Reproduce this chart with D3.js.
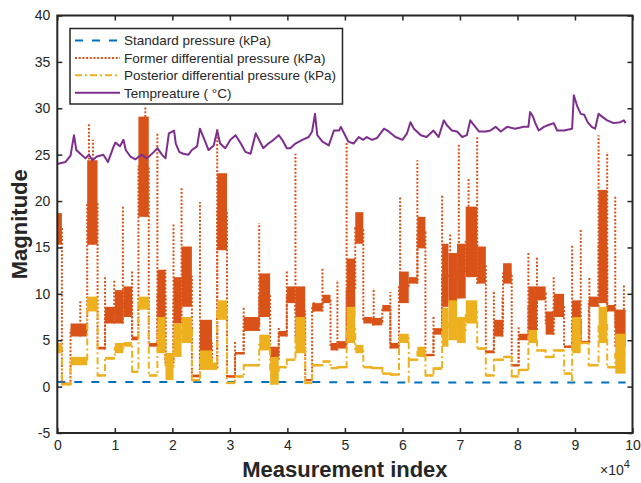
<!DOCTYPE html>
<html>
<head>
<meta charset="utf-8">
<script src="https://cdn.jsdelivr.net/npm/d3@7"></script>
<style>
  html, body { margin: 0; padding: 0; background: #fff; }
  svg { display: block; }
  text { font-family: "Liberation Sans", Arial, Helvetica, sans-serif; fill: #262626; }
</style>
</head>
<body>
<svg id="chart" width="641" height="483"></svg>
<script>
// Former differential pressure: [startIndex, endIndex, low, high] of each operating stretch
const formerSegments = [
  [0, 800, 15.3, 18.7], [800, 2300, 0.2, 0.4], [2300, 5200, 5.4, 6.8], [5200, 7000, 15.3, 24.4],
  [7000, 8300, 4.0, 4.3], [8300, 10000, 6.8, 8.6], [10000, 11500, 6.8, 10.4], [11500, 13000, 7.5, 10.8],
  [13000, 14100, 5.0, 5.4], [14100, 15900, 18.3, 29.1], [15900, 17400, 4.3, 4.7], [17400, 18800, 6.8, 12.6],
  [18800, 20200, 2.5, 3.6], [20200, 21600, 6.8, 11.8], [21600, 23400, 8.6, 15.1], [23400, 24800, 1.0, 1.3],
  [24800, 26900, 2.1, 7.2], [26900, 27800, 2.0, 2.2], [27800, 29500, 14.7, 23.0], [29500, 30900, 1.0, 1.2],
  [30900, 32400, 3.5, 3.7], [32400, 35100, 6.0, 7.5], [35100, 37000, 7.5, 12.2], [37000, 38500, 2.9, 4.3],
  [38500, 39900, 5.4, 6.0], [39900, 41400, 9.0, 10.8], [41400, 43100, 5.4, 10.8], [43100, 44300, 0.6, 0.8],
  [44300, 46100, 8.1, 9.0], [46100, 47500, 9.0, 9.9], [47500, 48700, 3.9, 4.7], [48700, 50300, 4.1, 4.9],
  [50300, 51800, 7.5, 13.8], [51800, 53200, 15.4, 18.8], [53200, 54700, 6.8, 7.5], [54700, 56500, 6.6, 7.4],
  [56500, 57900, 8.1, 8.8], [57900, 59400, 4.1, 4.7], [59400, 61100, 9.0, 12.4], [61100, 62600, 11.1, 11.8],
  [62600, 64000, 14.9, 18.3], [64000, 65400, 3.3, 3.5], [65400, 66900, 5.6, 6.3], [66900, 68000, 8.6, 15.4],
  [68000, 69500, 9.0, 14.4], [69500, 71000, 9.5, 15.4], [71000, 73000, 11.8, 19.4], [73000, 74500, 11.1, 15.1],
  [74500, 75900, 3.6, 3.9], [75900, 77500, 5.4, 7.2], [77500, 79000, 11.1, 13.3], [79000, 80200, 2.2, 2.4],
  [80200, 81900, 5.0, 5.7], [81900, 83400, 6.1, 10.8], [83400, 84900, 9.3, 10.8], [84900, 86300, 5.6, 8.1],
  [86300, 88100, 7.5, 10.0], [88100, 89500, 4.2, 4.4], [89500, 91000, 4.7, 9.3], [91000, 92400, 4.7, 4.9],
  [92400, 94100, 8.6, 9.7], [94100, 95600, 9.0, 21.2], [95600, 97000, 8.1, 8.8], [97000, 98800, 4.3, 8.3]
];

// Short peaks of the former differential pressure: [index, peak value]
const formerSpikes = [
  [4000, 9.3], [5500, 28.4], [6200, 26.6], [8300, 12.0], [9900, 11.5], [11400, 19.4], [13000, 12.4],
  [15300, 30.2], [17400, 27.3], [18800, 12.6], [20200, 17.6], [21600, 21.5], [24800, 19.9], [27800, 27.8],
  [30900, 5.0], [32400, 8.6], [35100, 17.6], [38500, 6.4], [39900, 12.4], [41400, 25.1], [44600, 9.1],
  [46100, 12.9], [48700, 11.5], [50300, 26.4], [55000, 10.6], [57900, 10.2], [59600, 20.5], [62600, 24.4],
  [65400, 7.7], [66900, 20.6], [68300, 16.5], [69800, 26.2], [71500, 22.4], [73000, 27.0], [75900, 10.4],
  [77400, 9.7], [80200, 6.5], [81900, 14.4], [83400, 14.0], [86300, 11.8], [89500, 15.3], [91000, 16.9],
  [92500, 11.7], [94100, 27.1], [95600, 25.3], [97000, 20.5], [98500, 11.1]
];

// Posterior differential pressure: [startIndex, endIndex, low, high]
const posteriorSegments = [
  [0, 800, 3.6, 4.7], [800, 2300, 0.2, 0.3], [2300, 5200, 2.3, 3.2], [5200, 7000, 8.1, 9.7],
  [7000, 8300, 1.1, 1.3], [8300, 10000, 2.9, 3.2], [10000, 11500, 3.6, 4.7], [11500, 13000, 4.3, 4.8],
  [13000, 14100, 1.5, 1.7], [14100, 15900, 8.3, 9.7], [15900, 17400, 1.1, 1.3], [17400, 18800, 3.6, 7.5],
  [18800, 20200, 0.7, 3.6], [20200, 21600, 3.2, 6.8], [21600, 23400, 4.7, 7.5], [23400, 24800, 0.6, 0.8],
  [24800, 26900, 1.8, 3.9], [26900, 27800, 1.8, 2.6], [27800, 29500, 7.2, 9.3], [29500, 30900, 0.3, 0.5],
  [30900, 32400, 1.0, 1.2], [32400, 35100, 2.2, 2.4], [35100, 37000, 3.9, 5.6], [37000, 38500, 0.2, 3.2],
  [38500, 39900, 2.0, 2.2], [39900, 41400, 2.8, 3.0], [41400, 43100, 3.6, 7.5], [43100, 44300, 0.3, 0.5],
  [44300, 46100, 2.2, 2.4], [46100, 47500, 2.6, 2.8], [47500, 48700, 1.9, 2.1], [48700, 50300, 2.0, 2.2],
  [50300, 51800, 4.7, 8.6], [51800, 53200, 3.6, 4.5], [53200, 54700, 2.0, 2.2], [54700, 56500, 1.9, 2.1],
  [56500, 57900, 1.3, 1.5], [57900, 59400, 1.2, 1.4], [59400, 61100, 4.7, 5.7], [61100, 62600, 2.8, 3.0],
  [62600, 64000, 3.2, 4.3], [64000, 65400, 1.1, 1.3], [65400, 66900, 1.8, 2.1], [66900, 68000, 4.3, 8.5],
  [68000, 69500, 5.0, 9.3], [69500, 71000, 4.7, 7.5], [71000, 73000, 6.8, 9.3], [73000, 74500, 4.0, 4.2],
  [74500, 75900, 1.1, 1.3], [75900, 77500, 2.8, 3.0], [77500, 79000, 3.1, 3.3], [79000, 80200, 1.0, 1.2],
  [80200, 81900, 1.7, 1.9], [81900, 83400, 4.7, 6.1], [83400, 84900, 3.8, 4.0], [84900, 86300, 3.1, 3.3],
  [86300, 88100, 3.8, 4.0], [88100, 89500, 1.3, 1.5], [89500, 91000, 3.6, 7.5], [91000, 92400, 4.6, 4.8],
  [92400, 94100, 2.2, 2.4], [94100, 95600, 4.7, 8.6], [95600, 97000, 2.0, 2.2], [97000, 98800, 1.4, 5.7]
];

// Brief drops of the posterior differential pressure: [index, value]
const posteriorDips = [[37000, 0.2], [61100, 0.3], [89500, 0.2]];

// Standard pressure
const standardIndex = [0, 20000, 40000, 60000, 80000, 98800];
const standardValues = [0.5, 0.5, 0.5, 0.45, 0.45, 0.45];

// Temperature
const tempIndex = [
  0, 1400, 2300, 2900, 3300, 4000, 4900, 5500, 6100, 6900, 8000, 8800, 9800, 10100, 10900, 11500,
  11900, 12700, 13600, 14600, 15600, 16800, 17400, 18200, 18800, 19400, 20300, 20600, 21200, 21900,
  22800, 23400, 24300, 24800, 25400, 26300, 27200, 27800, 28300, 29200, 30100, 31000, 31900, 32700,
  33600, 34500, 35400, 35800, 36700, 37600, 38500, 39100, 39900, 40500, 41400, 42600, 43700, 44300,
  44800, 45200, 46100, 47200, 48100, 49000, 49300, 49700, 50600, 51500, 52400, 53200, 53800, 54700,
  55600, 56800, 57600, 58800, 60000, 60800, 61400, 62000, 63200, 64200, 65400, 66300, 67200, 67700,
  68600, 69500, 70400, 71200, 71800, 72400, 73300, 74500, 75300, 76200, 77100, 78200, 79600, 81100,
  81900, 82200, 82700, 83100, 83700, 84600, 85400, 86300, 86900, 88100, 89500, 89800, 90400, 91000,
  91600, 92200, 92900, 93500, 94100, 94700, 95600, 96700, 97900, 98500, 98800
];
const tempValues = [
  24.0, 24.2, 24.9, 27.1, 25.5, 25.1, 24.6, 25.0, 24.4, 24.8, 25.0, 24.2, 25.9, 26.3, 25.9, 26.6,
  25.5, 24.8, 24.5, 25.0, 24.6, 25.3, 25.7, 25.0, 24.6, 27.3, 27.6, 26.2, 25.3, 25.1,
  25.0, 25.5, 25.9, 27.8, 26.9, 25.5, 26.0, 27.6, 26.2, 25.7, 26.6, 27.1, 26.2, 25.3,
  25.1, 27.3, 26.2, 25.7, 26.2, 26.6, 27.1, 26.6, 25.7, 25.7, 26.2, 26.6, 26.9, 27.5,
  29.4, 27.1, 26.4, 26.0, 27.6, 27.6, 28.0, 27.5, 26.4, 26.2, 26.9, 26.6, 26.9, 26.6,
  26.8, 27.8, 27.5, 26.9, 26.6, 27.3, 28.5, 27.8, 27.1, 26.9, 27.6, 26.9, 28.7, 28.2,
  27.6, 27.5, 26.9, 27.1, 28.7, 28.2, 27.5, 27.5, 27.6, 28.0, 27.5, 28.0, 27.8, 28.0,
  28.0, 29.6, 29.1, 28.4, 27.6, 28.0, 28.2, 28.4, 27.6, 27.6, 27.8, 31.4, 30.2, 29.4,
  29.3, 28.5, 28.0, 27.8, 29.4, 29.1, 28.7, 28.4, 28.5, 28.7, 28.4
];

const xTicks = [0, 10000, 20000, 30000, 40000, 50000, 60000, 70000, 80000, 90000, 100000];
const xTickLabels = ["0", "1", "2", "3", "4", "5", "6", "7", "8", "9", "10"];
const yTicks = [-5, 0, 5, 10, 15, 20, 25, 30, 35, 40];
const yTickLabels = ["-5", "0", "5", "10", "15", "20", "25", "30", "35", "40"];

const legendLabels = [
  "Standard pressure (kPa)",
  "Former differential pressure (kPa)",
  "Posterior differential pressure (kPa)",
  "Tempreature ( \u00B0C)"
];

const colors = { standard: "#0072BD", former: "#D95319", posterior: "#EDB120", temp: "#7E2F8E" };
const axisColor = "#262626";

const plot = { left: 57.3, right: 632.5, top: 15.5, bottom: 433 };
const svg = d3.select("#chart");

const x = d3.scaleLinear().domain([0, 100000]).range([plot.left, plot.right]);
const y = d3.scaleLinear().domain([-5, 40]).range([plot.bottom, plot.top]);

svg.append("defs").append("clipPath").attr("id", "plotClip")
  .append("rect")
  .attr("x", plot.left).attr("y", plot.top)
  .attr("width", plot.right - plot.left).attr("height", plot.bottom - plot.top);

const data = svg.append("g").attr("clip-path", "url(#plotClip)");

// step path through the middle of each stretch
function levelPoints(segs) {
  const pts = [];
  segs.forEach(s => {
    const m = (s[2] + s[3]) / 2;
    pts.push([s[0], m], [s[1], m]);
  });
  return pts;
}
function baseAt(segs, idx) {
  const near = segs.filter(s => idx >= s[0] - 150 && idx <= s[1] + 150);
  return near.length ? d3.min(near, s => s[2]) : 0;
}
const line = d3.line().x(d => x(d[0])).y(d => y(d[1]));

// standard pressure (dashed)
data.append("path")
  .datum(standardIndex.map((v, i) => [v, standardValues[i]]))
  .attr("d", line)
  .attr("fill", "none")
  .attr("stroke", colors.standard)
  .attr("stroke-width", 2)
  .attr("stroke-dasharray", "8,9");

// former differential pressure (dotted)
const fg = data.append("g");
fg.selectAll("rect").data(formerSegments).join("rect")
  .attr("x", d => x(d[0]))
  .attr("width", d => x(d[1]) - x(d[0]))
  .attr("y", d => Math.min(y(d[3]), (y(d[2]) + y(d[3])) / 2 - 1.2))
  .attr("height", d => Math.max(y(d[2]) - y(d[3]), 2.4))
  .attr("fill", colors.former);
fg.append("path")
  .datum(levelPoints(formerSegments))
  .attr("d", line)
  .attr("fill", "none")
  .attr("stroke", colors.former)
  .attr("stroke-width", 2)
  .attr("stroke-dasharray", "2,1.7");
fg.selectAll("line.spike").data(formerSpikes).join("line")
  .attr("class", "spike")
  .attr("x1", d => x(d[0])).attr("x2", d => x(d[0]))
  .attr("y1", d => y(baseAt(formerSegments, d[0])))
  .attr("y2", d => y(d[1]))
  .attr("stroke", colors.former)
  .attr("stroke-width", 2)
  .attr("stroke-dasharray", "2,1.7");

// posterior differential pressure (dash-dot)
const pg = data.append("g");
pg.selectAll("rect").data(posteriorSegments).join("rect")
  .attr("x", d => x(d[0]))
  .attr("width", d => x(d[1]) - x(d[0]))
  .attr("y", d => Math.min(y(d[3]), (y(d[2]) + y(d[3])) / 2 - 1.2))
  .attr("height", d => Math.max(y(d[2]) - y(d[3]), 2.4))
  .attr("fill", colors.posterior);
pg.append("path")
  .datum(levelPoints(posteriorSegments))
  .attr("d", line)
  .attr("fill", "none")
  .attr("stroke", colors.posterior)
  .attr("stroke-width", 2)
  .attr("stroke-dasharray", "7,3,2,3");
pg.selectAll("line.dip").data(posteriorDips).join("line")
  .attr("class", "dip")
  .attr("x1", d => x(d[0])).attr("x2", d => x(d[0]))
  .attr("y1", d => y(baseAt(posteriorSegments, d[0])))
  .attr("y2", d => y(d[1]))
  .attr("stroke", colors.posterior)
  .attr("stroke-width", 2)
  .attr("stroke-dasharray", "7,3,2,3");

// temperature (solid)
data.append("path")
  .datum(tempIndex.map((v, i) => [v, tempValues[i]]))
  .attr("d", line)
  .attr("fill", "none")
  .attr("stroke", colors.temp)
  .attr("stroke-width", 2)
  .attr("stroke-linejoin", "round");

// axes with inward ticks on all four sides
function styleAxis(g) {
  g.selectAll(".domain").remove();
  g.selectAll(".tick line").attr("stroke", axisColor).attr("stroke-width", 1.5);
  g.selectAll(".tick text").attr("fill", axisColor).style("font-size", "14px")
    .style("font-family", "'Liberation Sans', Arial, Helvetica, sans-serif");
}
svg.append("g").attr("transform", `translate(0,${plot.bottom})`)
  .call(d3.axisBottom(x).tickValues(xTicks).tickFormat((d, i) => xTickLabels[i]).tickSizeInner(-5).tickSizeOuter(0).tickPadding(7))
  .call(styleAxis);
svg.append("g").attr("transform", `translate(0,${plot.top})`)
  .call(d3.axisTop(x).tickValues(xTicks).tickFormat("").tickSizeInner(-5).tickSizeOuter(0))
  .call(styleAxis);
svg.append("g").attr("transform", `translate(${plot.left},0)`)
  .call(d3.axisLeft(y).tickValues(yTicks).tickFormat((d, i) => yTickLabels[i]).tickSizeInner(-5).tickSizeOuter(0).tickPadding(7))
  .call(styleAxis);
svg.append("g").attr("transform", `translate(${plot.right},0)`)
  .call(d3.axisRight(y).tickValues(yTicks).tickFormat("").tickSizeInner(-5).tickSizeOuter(0))
  .call(styleAxis);

svg.append("rect")
  .attr("x", plot.left).attr("y", plot.top)
  .attr("width", plot.right - plot.left).attr("height", plot.bottom - plot.top)
  .attr("fill", "none").attr("stroke", axisColor).attr("stroke-width", 2);

// axis titles
svg.append("text")
  .attr("x", (plot.left + plot.right) / 2).attr("y", 477)
  .attr("text-anchor", "middle")
  .style("font-size", "22px").style("font-weight", "bold")
  .text("Measurement index");
svg.append("text")
  .attr("transform", `translate(27,${(plot.top + plot.bottom) / 2}) rotate(-90)`)
  .attr("text-anchor", "middle")
  .style("font-size", "22px").style("font-weight", "bold")
  .text("Magnitude");

// exponent of the index axis
const expo = svg.append("text").attr("x", 600).attr("y", 475).style("font-size", "14px");
expo.append("tspan").text("\u00D710");
expo.append("tspan").attr("dy", -7).style("font-size", "11px").text("4");

// legend
const lg = svg.append("g");
lg.append("rect")
  .attr("x", 70).attr("y", 28.5).attr("width", 272.5).attr("height", 75.5)
  .attr("fill", "#fff").attr("stroke", axisColor).attr("stroke-width", 1.5);
const legendStyles = [
  { color: colors.standard, dash: "8,9" },
  { color: colors.former, dash: "2,1.7" },
  { color: colors.posterior, dash: "7,3,2,3" },
  { color: colors.temp, dash: null }
];
legendLabels.forEach((label, i) => {
  const cy = 40.5 + i * 17.4;
  lg.append("line")
    .attr("x1", 75).attr("x2", 120).attr("y1", cy).attr("y2", cy)
    .attr("stroke", legendStyles[i].color).attr("stroke-width", 2)
    .attr("stroke-dasharray", legendStyles[i].dash);
  lg.append("text")
    .attr("x", 124).attr("y", cy).attr("dy", "0.36em")
    .style("font-size", "13.5px")
    .text(label);
});
</script>
</body>
</html>
